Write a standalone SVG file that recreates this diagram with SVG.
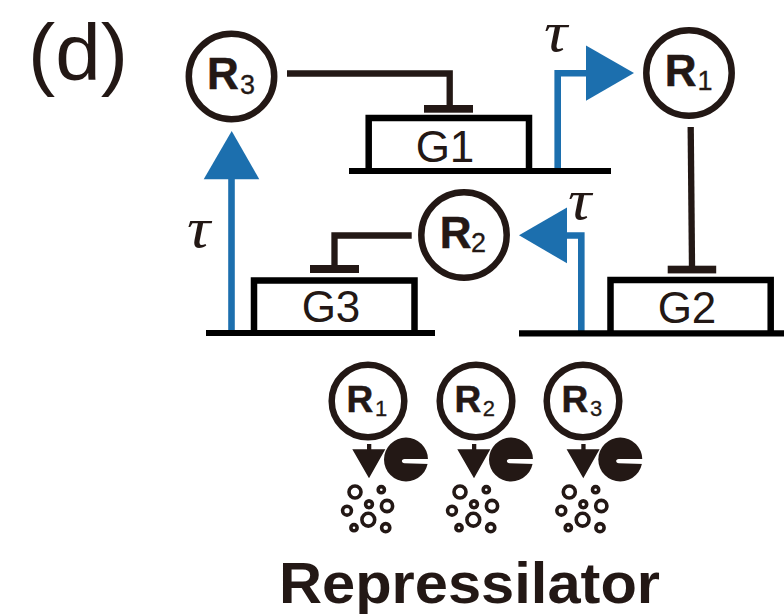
<svg xmlns="http://www.w3.org/2000/svg" width="784" height="614" viewBox="0 0 784 614">
<style>
text{font-family:"Liberation Sans",Arial,sans-serif;fill:#231815}
.c{fill:#fff;stroke:#231815;stroke-width:6.5}
.cs{fill:#fff;stroke:#231815;stroke-width:6.5}
.r{font-weight:bold;font-size:44px;stroke:#231815;stroke-width:.5}
.s{font-size:27px;stroke:#231815;stroke-width:.3}
.rs{font-weight:bold;font-size:37px;stroke:#231815;stroke-width:.5}
.ss{font-size:22px;stroke:#231815;stroke-width:.3}
.g{font-size:44px;text-anchor:middle}
.t{font-family:"Liberation Serif",serif;font-style:italic;font-size:50px}
.box{fill:none;stroke:#000;stroke-width:6.5}
.base{fill:none;stroke:#000;stroke-width:6.2}
.rep{fill:none;stroke:#231815;stroke-width:6.3}
.bar{fill:#231815}
.blue{fill:none;stroke:#1c6fae;stroke-width:6.6}
.tri{fill:#1c6fae}
.dot{fill:none;stroke:#231815;stroke-width:3.6}
.k{fill:#231815}
.w{fill:#fff}
</style>
<defs>
<g id="deg">
<path class="k" d="M352.300 449.300H367V444H371.300V449.300H385.300L369 478.300Z"/>
<circle class="k" cx="406" cy="459.500" r="22"/>
<path class="w" d="M429 459H404.500C401 459 401 463 404.500 463.200L429 464Z"/>
<circle class="dot" cx="355" cy="492" r="6"/>
<circle class="dot" cx="381.300" cy="489.700" r="3.100"/>
<circle class="dot" cx="369" cy="504.300" r="3.400"/>
<circle class="dot" cx="387" cy="506" r="5.600"/>
<circle class="dot" cx="347" cy="510.700" r="4.400"/>
<circle class="dot" cx="368.300" cy="519.700" r="6.400"/>
<circle class="dot" cx="354" cy="527.700" r="3.100"/>
<circle class="dot" cx="385.700" cy="527.700" r="4.100"/>
</g>
</defs>
<text x="28" y="80" textLength="100" lengthAdjust="spacingAndGlyphs" style="font-size:80px">(d)</text>
<g id="connectors">
<path class="rep" d="M287 73.500H449.700V105"/>
<rect class="bar" x="424" y="105" width="49" height="7.700"/>
<path class="rep" d="M690.700 127L692 266"/>
<rect class="bar" x="667.700" y="265.700" width="48.500" height="7.700"/>
<path class="rep" d="M411.700 235.500H334.500V266"/>
<rect class="bar" x="310" y="265" width="49" height="8"/>
<path class="blue" d="M231.500 335V178"/>
<path class="tri" d="M231.700 131L259.300 179.300H203.700Z"/>
<path class="blue" d="M557.700 174V73.300H587"/>
<path class="tri" d="M586 45.500L634 73L586 100.800Z"/>
<path class="blue" d="M581.300 336V235.500H566"/>
<path class="tri" d="M567 207.500L519 235.300L567 263.300Z"/>
</g>
<g id="G1">
<path class="box" d="M368.700 171V118H529V171"/>
<path class="base" d="M349 171H611"/>
<text class="g" x="445" y="161.700">G1</text>
</g>
<g id="G2">
<path class="box" d="M610.500 333V280H770.700V333"/>
<path class="base" d="M519 333.300H784"/>
<text class="g" x="687" y="323.300">G2</text>
</g>
<g id="G3">
<path class="box" d="M254 333V280.500H414.500V333"/>
<path class="base" d="M206 333H435"/>
<text class="g" x="331" y="321.700">G3</text>
</g>
<g id="R3">
<circle class="c" cx="231.500" cy="76.500" r="42.700"/>
<text class="r" x="207" y="89.300">R</text><text class="s" x="240" y="94">3</text>
</g>
<g id="R1">
<circle class="c" cx="689" cy="73" r="42.700"/>
<text class="r" x="664.700" y="86">R</text><text class="s" x="697.500" y="90">1</text>
</g>
<g id="R2">
<circle class="c" cx="464" cy="235" r="42.700"/>
<text class="r" x="439.700" y="248.300">R</text><text class="s" x="471" y="252.300">2</text>
</g>
<text class="t" transform="translate(544 51) scale(1.3 1.13)">τ</text>
<text class="t" transform="translate(568 219) scale(1.3 1.13)">τ</text>
<text class="t" transform="translate(187 247) scale(1.3 1.13)">τ</text>
<g id="deg1">
<circle class="cs" cx="368" cy="401" r="36.300"/>
<text class="rs" x="346.600" y="411.700">R</text><text class="ss" x="375" y="416">1</text>
<use href="#deg"/>
</g>
<g id="deg2">
<circle class="cs" cx="476" cy="401" r="36.300"/>
<text class="rs" x="454.600" y="411.700">R</text><text class="ss" x="482.700" y="416">2</text>
<use href="#deg" x="105"/>
</g>
<g id="deg3">
<circle class="cs" cx="583" cy="401" r="36.300"/>
<text class="rs" x="561.600" y="411.700">R</text><text class="ss" x="590" y="416">3</text>
<use href="#deg" x="214.300"/>
</g>
<text x="279" y="603" textLength="381" lengthAdjust="spacingAndGlyphs" style="font-size:57px;font-weight:bold">Repressilator</text>
</svg>
